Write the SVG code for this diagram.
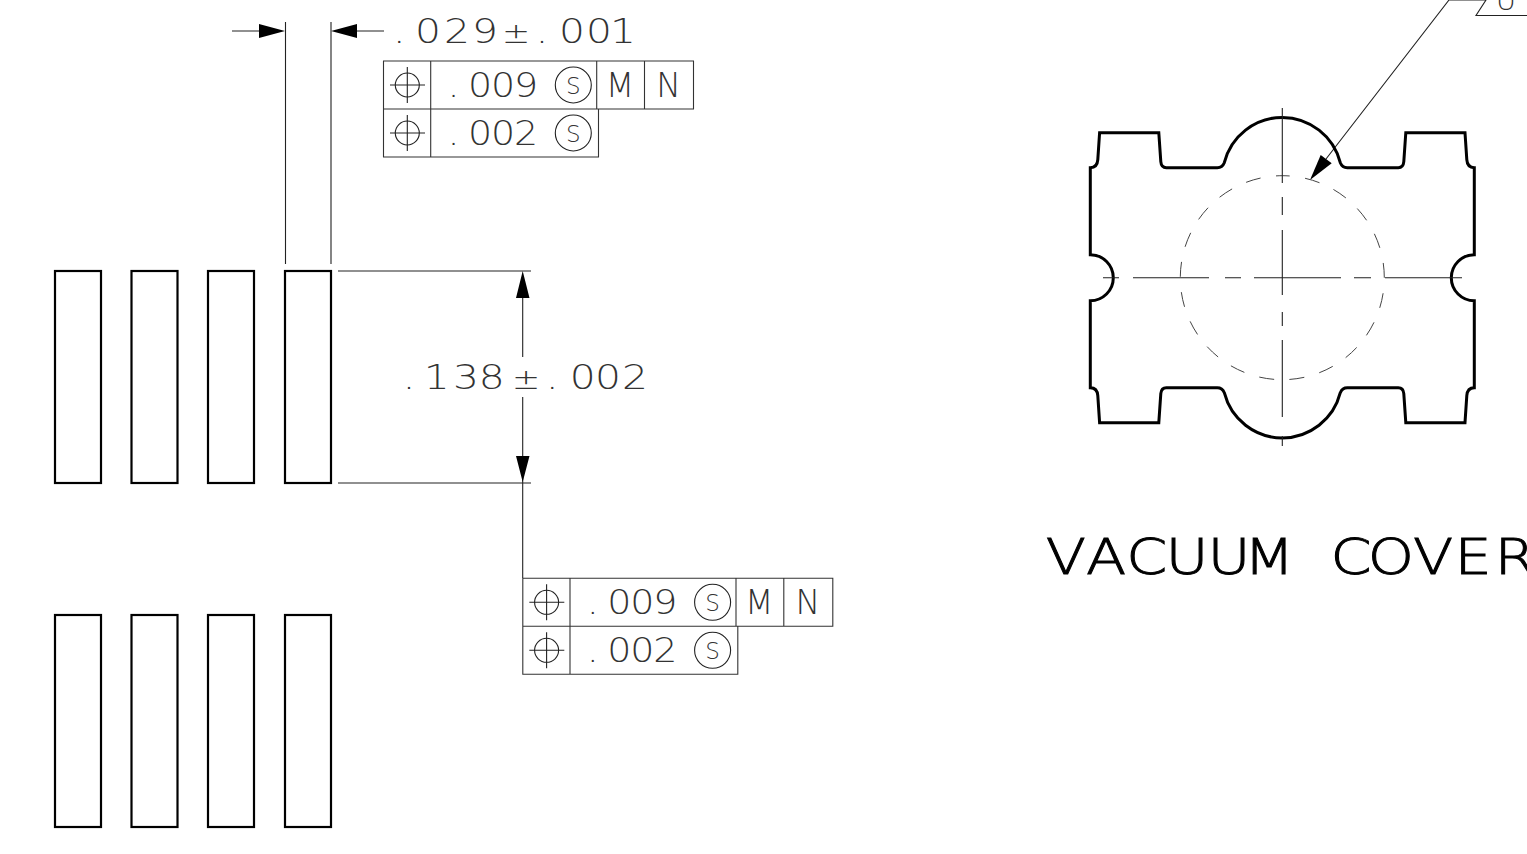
<svg xmlns="http://www.w3.org/2000/svg" width="1527" height="854" viewBox="0 0 1527 854">
<style>
.bg{fill:#fff}
.thick{fill:none;stroke:#000;stroke-width:2.2}
.outline{fill:none;stroke:#000;stroke-width:3}
.thin{fill:none;stroke:#222;stroke-width:1.1}
.frame{fill:none;stroke:#333;stroke-width:1.1}
.dash{fill:none;stroke:#444;stroke-width:1;stroke-dasharray:15 15.52;stroke-dashoffset:7.5}
.head{fill:#000;stroke:none}
text{font-family:"DejaVu Sans","Liberation Sans",sans-serif;font-weight:200;text-anchor:middle;fill:#333}
.dim{font-size:34px}
.tol{font-size:33px}
.s{font-size:23px}
.title{font-size:49px;fill:#000;stroke:#000;stroke-width:.9}
.flag{font-size:28px}
.pm{font-size:28px}
</style>
<rect class="bg" width="1527" height="854"/>
<g id="pins-top">
<rect class="thick" x="55" y="271" width="46" height="212"/>
<rect class="thick" x="131.500" y="271" width="46" height="212"/>
<rect class="thick" x="208" y="271" width="46" height="212"/>
<rect class="thick" x="285" y="271" width="46" height="212"/>
</g>
<g id="pins-bottom">
<rect class="thick" x="55" y="615" width="46" height="212"/>
<rect class="thick" x="131.500" y="615" width="46" height="212"/>
<rect class="thick" x="208" y="615" width="46" height="212"/>
<rect class="thick" x="285" y="615" width="46" height="212"/>
</g>
<g id="connectors">
<path class="thin" d="M285.500 22V264M331 22V264M232 31H260M357 31H384"/>
<path class="head" d="M285 31L259 24V38ZM331 31L357 24V38Z"/>
<path class="thin" d="M338 271H531M338 483H531M522.700 298V357M522.700 397V578"/>
<path class="head" d="M522.700 271L516 298H529.500ZM522.700 482L516 456H529.500Z"/>
<path class="thin" d="M1326 159L1449 0H1486L1476 15.500H1527"/>
<path class="head" d="M1310 180L1320.700 155L1331.700 163.300Z"/>
</g>
<g id="dim-width"><text class="dim" transform="scale(1.2 1)" y="43.500" x="332.750 356.670 380.830 404.170 430 451.670 476.670 499.170 519.170">.029<tspan class="pm">±</tspan>.001</text></g>
<g id="dim-height"><text class="dim" transform="scale(1.2 1)" y="389.500" x="340.830 363.920 388.330 409.750 438.330 460.250 485.580 506.670 529.170">.138<tspan class="pm">±</tspan>.002</text></g>
<g id="fcf-upper">
<path class="frame" d="M383.500 61H693.500V109H383.500ZM383.500 109H598.500V157H383.500ZM430.700 61V157M596.700 61V109M644.500 61V109"/>
<path class="thin" d="M390 85H425M407.300 67V103M390 133H425M407.300 115V151"/>
<circle class="thin" cx="407.300" cy="85" r="12"/><circle class="thin" cx="407.300" cy="133" r="12"/>
<circle class="thin" cx="573.300" cy="85" r="18"/><circle class="thin" cx="573.300" cy="133" r="18"/>
<text class="tol" transform="scale(1.15 1)" y="97" x="394.350 417.390 437.390 457.390">.009</text>
<text class="s" y="93.500" x="573.300">S</text>
<text class="tol" y="97" x="620">M</text>
<text class="tol" y="97" x="668.500">N</text>
<text class="tol" transform="scale(1.15 1)" y="145" x="394.350 417.390 437.390 457.390">.002</text>
<text class="s" y="141.500" x="573.300">S</text>
</g>
<g id="fcf-lower" transform="translate(139.300 517.300)">
<path class="frame" d="M383.500 61H693.500V109H383.500ZM383.500 109H598.500V157H383.500ZM430.700 61V157M596.700 61V109M644.500 61V109"/>
<path class="thin" d="M390 85H425M407.300 67V103M390 133H425M407.300 115V151"/>
<circle class="thin" cx="407.300" cy="85" r="12"/><circle class="thin" cx="407.300" cy="133" r="12"/>
<circle class="thin" cx="573.300" cy="85" r="18"/><circle class="thin" cx="573.300" cy="133" r="18"/>
<text class="tol" transform="scale(1.15 1)" y="97" x="394.350 417.390 437.390 457.390">.009</text>
<text class="s" y="93.500" x="573.300">S</text>
<text class="tol" y="97" x="620">M</text>
<text class="tol" y="97" x="668.500">N</text>
<text class="tol" transform="scale(1.15 1)" y="145" x="394.350 417.390 437.390 457.390">.002</text>
<text class="s" y="141.500" x="573.300">S</text>
</g>
<g id="vacuum-cover">
<g transform="translate(1282.300 277.700)">
<path class="outline" d="M-58 -115A60 60 0 0 1 0 -160.300A60 60 0 0 1 58 -115Q60 -110 65 -110H116Q121 -110 121.500 -116L123.500 -145H182.700L184.500 -118Q185 -110 192 -110V-23A23 23 0 0 0 192 23V110Q185 110 184.500 118L182.700 145H123.500L121.500 116Q121 110 116 110H65Q60 110 58 115A60 60 0 0 1 0 160.300A60 60 0 0 1 -58 115Q-60 110 -65 110H-116Q-121 110 -121.500 116L-123.500 145H-182.700L-184.500 118Q-185 110 -192 110V23A23 23 0 0 0 -192 -23V-110Q-185 -110 -184.500 -118L-182.700 -145H-123.500L-121.500 -116Q-121 -110 -116 -110H-65Q-60 -110 -58 -115Z"/>
<path class="dash" d="M0 -102A102 102 0 0 1 0 102A102 102 0 0 1 0 -102Z"/>
</g>
<path class="thin" d="M1282.300 108V183M1282.300 197V215M1282.300 230V295M1282.300 312V326M1282.300 340V417M1282.300 436V446M1103 277.700H1119M1133 277.700H1209M1225 277.700H1241M1254 277.700H1341M1354 277.700H1371M1385 277.700H1462"/>
<text class="title" transform="scale(1.2 1)" y="574" x="888.330 921.670 955.580 989.170 1024.170 1057.500 1091.670 1125.830 1159.170 1194.170 1227.500 1262.500">VACUUM COVER</text>
<text class="flag" y="10" x="1506">U</text>
</g>
</svg>
